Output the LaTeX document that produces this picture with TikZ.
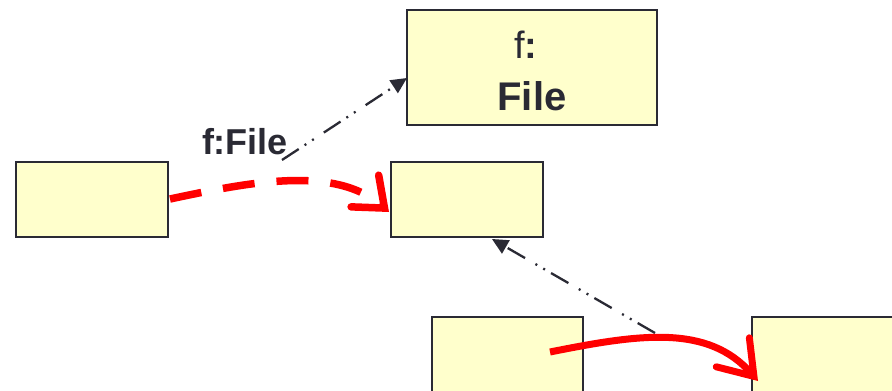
\documentclass[tikz,border=0pt]{standalone}
\usepackage{fontspec}
\setmainfont{Liberation Sans}
\usetikzlibrary{arrows.meta}
\definecolor{boxfill}{RGB}{255,255,204}
\definecolor{ink}{RGB}{42,42,52}
\definecolor{flow}{RGB}{255,0,0}
\tikzset{
  objbox/.style={draw=ink, fill=boxfill, line width=1.5pt, inner sep=0pt},
  depend/.style={draw=ink, line width=2.3pt,
    dash pattern=on 20pt off 7pt on 2pt off 7pt on 2pt off 12pt,
    -{Triangle[length=16pt,width=15pt]}},
  msgdash/.style={draw=flow, line width=7.5pt, dash pattern=on 32pt off 22pt,
    -{Straight Barb[length=26pt,width=42pt,line cap=round]}},
  msgsolid/.style={draw=flow, line width=7pt,
    -{Straight Barb[length=32pt,width=44pt,line cap=round]}},
  lbl/.style={text=ink, font=\bfseries\fontsize{36}{40}\selectfont, inner sep=0pt}
}
\begin{document}
\begin{tikzpicture}[x=1pt,y=-1pt]
\useasboundingbox (0,0) rectangle (892,391);
\clip (0,0) rectangle (892,391);
\fill[white] (0,0) rectangle (892,391);

% objects
\node[objbox, minimum width=152pt, minimum height=75pt] (a) at (92,199.5) {};
\node[objbox, minimum width=152pt, minimum height=75pt] (b) at (467,199.5) {};
\node[objbox, minimum width=250pt, minimum height=115pt] (c) at (532,67.5) {};
\node[objbox, minimum width=151pt, minimum height=110pt] (d) at (507.5,372) {};
\node[objbox, minimum width=160pt, minimum height=110pt] (e) at (832,372) {};

% text inside the file object
\node[text=ink, inner sep=0pt, font=\fontsize{38}{42}\selectfont] (ft) at (526,45) {f\textbf{:}};
\node[lbl, font=\bfseries\fontsize{40}{44}\selectfont] (fn) at (532,96) {File};

% link label
\node[lbl] (lab) at (245,142) {f:File};

% dependency links
\coordinate (s1) at (282,160);
\coordinate (t1) at (407,78);
\draw[depend] (s1) -- (t1);
\coordinate (s2) at (655,333);
\coordinate (t2) at (492,239);
\draw[depend] (s2) -- (t2);

% messages
\coordinate (m1s) at (170,199);
\coordinate (m1e) at (389,212);
\draw[msgdash] (m1s) .. controls (250,182) and (335,165) .. (m1e);
\coordinate (m2s) at (550,352);
\coordinate (m2e) at (758,381);
\draw[msgsolid] (m2s) .. controls (640,334) and (708,324) .. (m2e);
\end{tikzpicture}
\end{document}
